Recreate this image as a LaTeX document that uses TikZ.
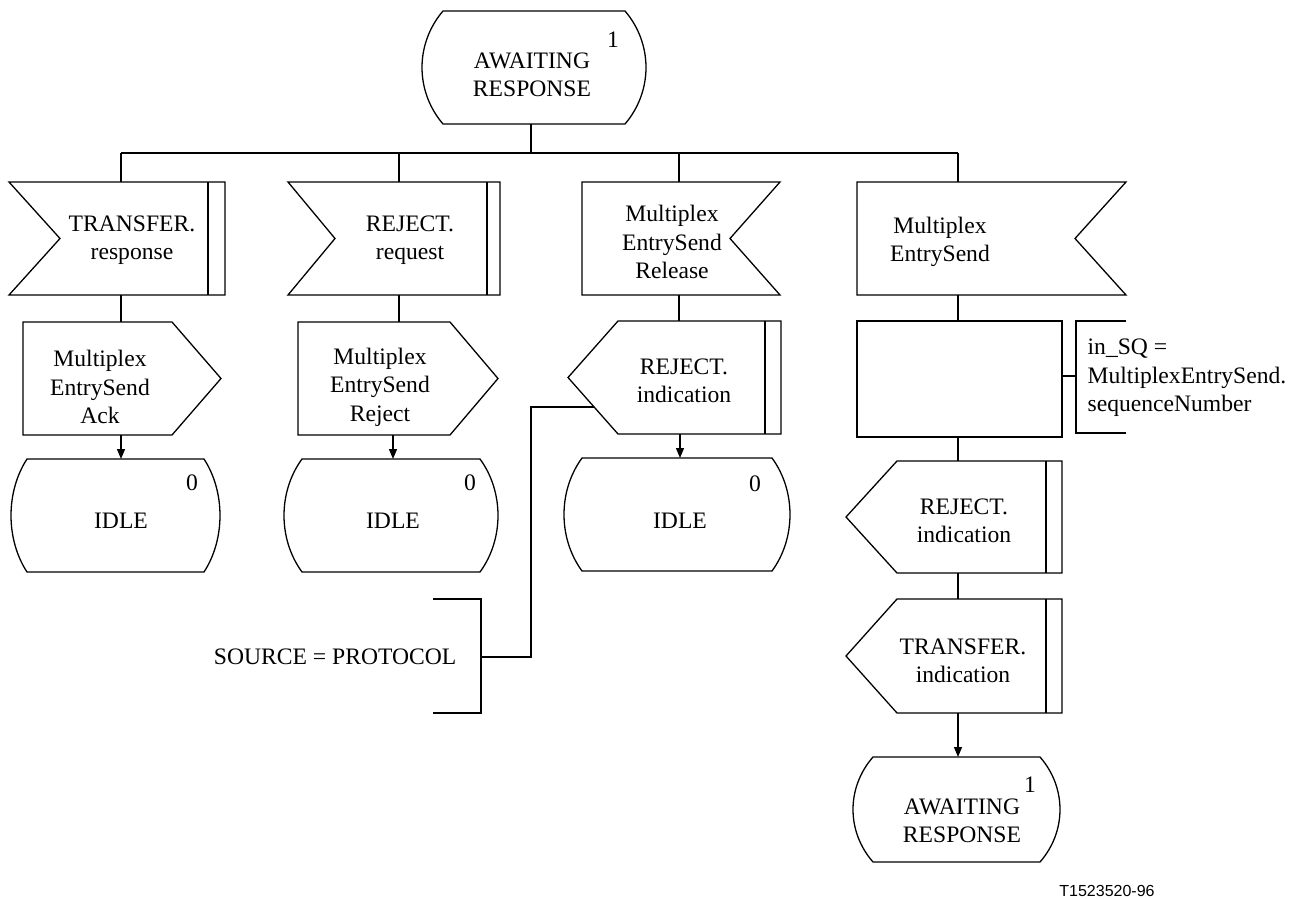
\documentclass[tikz,border=0pt]{standalone}
\usepackage{fontspec}
\setmainfont{Liberation Serif}
\newfontfamily\labelfont{Liberation Sans}
\usetikzlibrary{arrows.meta}
\newcommand\fs{\fontsize{11.8pt}{14.2pt}\selectfont}
% state: x left corner, x right corner, y top, y bottom, bulge
\newcommand\sdlstate[5]{%
  \draw (#1,#3) -- (#2,#3)
    .. controls ({#2+1.333*#5},{#3+0.29*(#4-#3)}) and ({#2+1.333*#5},{#4-0.29*(#4-#3)}) .. (#2,#4)
    -- (#1,#4)
    .. controls ({#1-1.333*#5},{#4-0.29*(#4-#3)}) and ({#1-1.333*#5},{#3+0.29*(#4-#3)}) .. cycle;}
% input, notch left, bar right: xl, xnotch, xbar, xouter, yt, yb
\newcommand\sdlinput[6]{%
  \draw (#1,#5) -- (#4,#5) -- (#4,#6) -- (#1,#6) -- (#2,{(#5+#6)/2}) -- cycle;
  \draw (#3,#5) -- (#3,#6);}
% input, notch right: xl, xnotch, xr, yt, yb
\newcommand\sdlinputR[5]{%
  \draw (#1,#4) -- (#3,#4) -- (#2,{(#4+#5)/2}) -- (#3,#5) -- (#1,#5) -- cycle;}
% output pointing right: xl, xs, xtip, yt, yb
\newcommand\sdloutputR[5]{%
  \draw (#1,#4) -- (#2,#4) -- (#3,{(#4+#5)/2}) -- (#2,#5) -- (#1,#5) -- cycle;}
% output pointing left with bar: xtip, xs, xbar, xouter, yt, yb
\newcommand\sdloutputL[6]{%
  \draw (#1,{(#5+#6)/2}) -- (#2,#5) -- (#4,#5) -- (#4,#6) -- (#2,#6) -- cycle;
  \draw (#3,#5) -- (#3,#6);}
\begin{document}
\begin{tikzpicture}[x=0.5pt,y=-0.5pt,line width=0.65pt,
  txt/.style={font=\fs,align=center,inner sep=0pt},
  ltxt/.style={font=\fs,align=left,inner sep=0pt},
  arr/.style={-{Triangle[length=5pt,width=4pt]}}]
\useasboundingbox (0,0) rectangle (1297,899);

% ---- top state
\sdlstate{443}{625}{11}{124}{21}
\node[txt] (s0) at (532,75) {AWAITING\\RESPONSE};
\node[txt] (s0num) at (613,40) {1};
\coordinate (s0-s) at (531,124);
\coordinate (bus) at (531,153);
\coordinate (b1) at (121,153);
\coordinate (b2) at (399,153);
\coordinate (b3) at (679,153);
\coordinate (b4) at (958,153);

% ---- inputs
\sdlinput{9}{60}{208}{225}{182}{295}
\node[txt] (i1) at (132,240) {TRANSFER.\\response};
\sdlinput{288}{335}{487}{500}{182}{295}
\node[txt] (i2) at (410,240) {REJECT.\\request};
\sdlinputR{582}{730}{780}{182}{295}
\node[txt] (i3) at (672,242) {Multiplex\\EntrySend\\Release};
\sdlinputR{857}{1075}{1126}{182}{295}
\node[txt] (i4) at (940,242) {Multiplex\\EntrySend};
\coordinate (i1-n) at (121,182); \coordinate (i1-s) at (121,295);
\coordinate (i2-n) at (399,182); \coordinate (i2-s) at (399,295);
\coordinate (i3-n) at (679,182); \coordinate (i3-s) at (679,295);
\coordinate (i4-n) at (958,182); \coordinate (i4-s) at (958,295);

% ---- outputs
\sdloutputR{23}{172}{221}{322}{435}
\node[txt] (o1) at (100,387) {Multiplex\\EntrySend\\Ack};
\sdloutputR{298}{450}{498}{322}{435}
\node[txt] (o2) at (380,387) {Multiplex\\EntrySend\\Reject};
\sdloutputL{568}{618}{765}{781}{321}{434}
\node[txt] (o3) at (684,381) {REJECT.\\indication};
\coordinate (o1-n) at (121,322); \coordinate (o1-s) at (121,435);
\coordinate (o2-n) at (399,322); \coordinate (o2-s) at (393,435);
\coordinate (o3-n) at (679,321); \coordinate (o3-s) at (680,434);
\coordinate (o3-w) at (594,407);

% ---- task and its comment
\node[draw,minimum width=102.5pt,minimum height=58pt,inner sep=0pt] (t) at (959.5,379) {};
\draw (1126,321) -- (1076,321) -- (1076,433) -- (1126,433);
\node[ltxt,anchor=west] (c1) at (1087,378) {in\_SQ =\\MultiplexEntrySend.\\sequenceNumber};
\coordinate (c1-w) at (1076,376);
\draw (t.east |- c1-w) -- (c1-w);

\sdloutputL{846}{897}{1046}{1062}{461}{573}
\node[txt] (o4) at (964,521) {REJECT.\\indication};
\sdloutputL{846}{897}{1046}{1062}{599}{713}
\node[txt] (o5) at (963,661) {TRANSFER.\\indication};
\coordinate (o4-n) at (958,461); \coordinate (o4-s) at (958,573);
\coordinate (o5-n) at (958,599); \coordinate (o5-s) at (958,713);

% ---- states
\sdlstate{27}{204}{459}{572}{16}
\node[txt] (idle1) at (121,521) {IDLE};
\node[txt] (idle1num) at (192,483) {0};
\sdlstate{302}{480}{459}{572}{18}
\node[txt] (idle2) at (393,521) {IDLE};
\node[txt] (idle2num) at (470,483) {0};
\sdlstate{582}{772}{458}{571}{18}
\node[txt] (idle3) at (680,521) {IDLE};
\node[txt] (idle3num) at (755,484) {0};
\sdlstate{873}{1040}{757}{862}{20}
\node[txt] (s9) at (962,821) {AWAITING\\RESPONSE};
\node[txt] (s9num) at (1030,785) {1};
\coordinate (idle1-n) at (121,459);
\coordinate (idle2-n) at (393,459);
\coordinate (idle3-n) at (680,458);
\coordinate (s9-n) at (958,757);

% ---- comment SOURCE
\draw (433,599) -- (481,599) -- (481,713) -- (433,713);
\node[txt,anchor=east] (c2) at (457,657) {SOURCE = PROTOCOL};
\coordinate (c2-e) at (481,657);
\coordinate (c2-k) at (531,407);

% ---- connectors
\draw (s0-s) -- (bus);
\draw (b1) -- (b4);
\draw (b1) -- (i1-n);
\draw (b2) -- (i2-n);
\draw (b3) -- (i3-n);
\draw (b4) -- (i4-n);
\draw (i1-s) -- (o1-n);
\draw (i2-s) -- (o2-n);
\draw (i3-s) -- (o3-n);
\draw (i4-s) -- (i4-s |- t.north);
\draw (t.south -| o4-n) -- (o4-n);
\draw (o4-s) -- (o5-n);
\draw[arr] (o1-s) -- (idle1-n);
\draw[arr] (o2-s) -- (idle2-n);
\draw[arr] (o3-s) -- (idle3-n);
\draw[arr] (o5-s) -- (s9-n);
\draw (c2-e) -| (c2-k) -- (o3-w);

\node[font=\labelfont\fontsize{8pt}{9pt}\selectfont,inner sep=0pt] (ref) at (1107,891) {T1523520-96};
\end{tikzpicture}
\end{document}
